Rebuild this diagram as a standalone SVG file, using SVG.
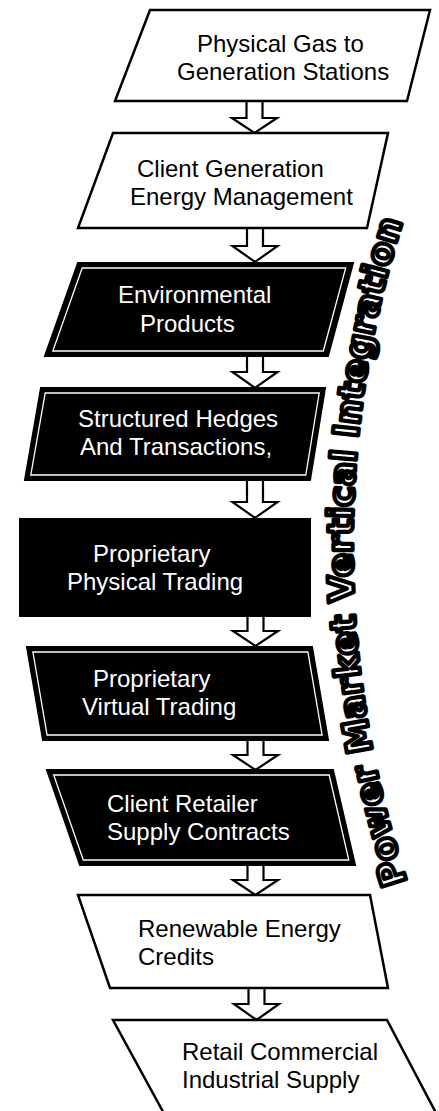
<svg xmlns="http://www.w3.org/2000/svg" width="439" height="1111" viewBox="0 0 439 1111">
<style>
.lt{fill:#fff;stroke:#000;stroke-width:2.5;stroke-linejoin:miter}
.dk{fill:#000;stroke:#000;stroke-width:2}
.inl{fill:none;stroke:#fff;stroke-width:1.3}
.arrow{fill:#fff;stroke:#000;stroke-width:2.2;stroke-linejoin:miter}
.t{font-family:"Liberation Sans",Arial,sans-serif;font-size:24px;fill:#000}
.w{fill:#fff}
.vt{font-family:"DejaVu Sans",sans-serif;font-weight:bold;font-size:35px;fill:#fff;stroke:#000;stroke-width:4.2;stroke-linejoin:round}
</style>
<defs>
<path id="arc" d="M 407,882 A 1070,1070 0 0 1 407,208"/>
</defs>
<rect width="439" height="1111" fill="#fff"/>
<g id="connectors">
<path class="arrow" d="M246.5,101 V118 H232 L254.5,133 L277,118 H262.5 V101 Z"/>
<path class="arrow" d="M247,228 V246 H232.5 L255,262 L277.5,246 H263 V228 Z"/>
<path class="arrow" d="M247,356 V372 H232.5 L255,388 L277.5,372 H263 V356 Z"/>
<path class="arrow" d="M247,480 V502 H232.5 L255,518 L277.5,502 H263 V480 Z"/>
<path class="arrow" d="M247.5,616 V631 H233 L255.5,646 L278,631 H263.5 V616 Z"/>
<path class="arrow" d="M247.5,740 V755 H233 L255.5,770 L278,755 H263.5 V740 Z"/>
<path class="arrow" d="M247.5,865 V880 H233 L255.5,895 L278,880 H263.5 V865 Z"/>
<path class="arrow" d="M248.5,988 V1004 H234 L256.5,1020 L279,1004 H264.5 V988 Z"/>
</g>
<g id="n1">
<polygon class="lt" points="150,10 430,10 407,101 115,101"/>
<text class="t" x="197" y="52">Physical Gas to</text>
<text class="t" x="177" y="80">Generation Stations</text>
</g>
<g id="n2">
<polygon class="lt" points="113,133 388,133 367,228 78,228"/>
<text class="t" x="137" y="177">Client Generation</text>
<text class="t" x="130" y="205">Energy Management</text>
</g>
<g id="n3">
<polygon class="dk" points="78,263 353,263 328,356 45,356"/>
<polygon class="inl" points="82.2,268 345.7,268 323.3,351 52.8,351"/>
<text class="t w" x="118" y="303">Environmental</text>
<text class="t w" x="140" y="332">Products</text>
</g>
<g id="n4">
<polygon class="dk" points="41,388 325,388 310,480 25,480"/>
<polygon class="inl" points="45.2,393 319.2,393 305.8,475 30.8,475"/>
<text class="t w" x="78" y="427">Structured Hedges</text>
<text class="t w" x="80" y="455">And Transactions,</text>
</g>
<g id="n5">
<rect class="dk" x="20" y="519" width="290" height="97"/>
<text class="t w" x="93" y="562">Proprietary</text>
<text class="t w" x="67" y="590">Physical Trading</text>
</g>
<g id="n6">
<polygon class="dk" points="27,647 312,647 328,740 43,740"/>
<polygon class="inl" points="32.9,652 307.9,652 322.1,735 47.1,735"/>
<text class="t w" x="93" y="687">Proprietary</text>
<text class="t w" x="82" y="715">Virtual Trading</text>
</g>
<g id="n7">
<polygon class="dk" points="47,770 333,770 355,865 80,865"/>
<polygon class="inl" points="53.7,775 329.2,775 348.8,860 83.3,860"/>
<text class="t w" x="107" y="812">Client Retailer</text>
<text class="t w" x="107" y="840">Supply Contracts</text>
</g>
<g id="n8">
<polygon class="lt" points="78,895 370,895 388,988 110,988"/>
<text class="t" x="138" y="937">Renewable Energy</text>
<text class="t" x="138" y="965">Credits</text>
</g>
<g id="n9">
<polygon class="lt" points="113,1020 387,1020 445,1130 173,1130"/>
<text class="t" x="182" y="1060">Retail Commercial</text>
<text class="t" x="182" y="1088">Industrial Supply</text>
</g>
<g id="title">
<text class="vt"><textPath href="#arc">Power Market Vertical Integration</textPath></text>
</g>
</svg>
